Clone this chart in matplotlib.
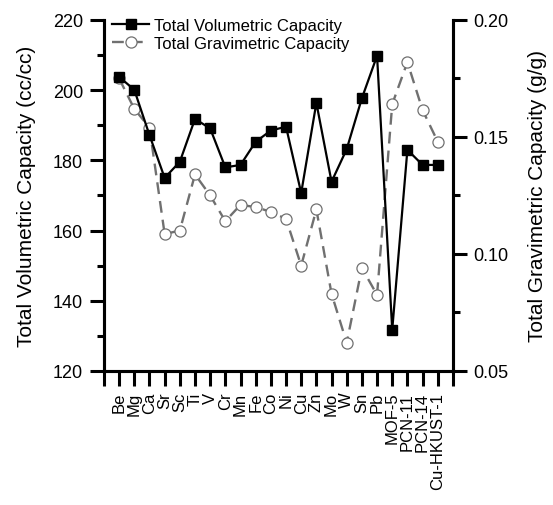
import matplotlib
matplotlib.use("Agg")
import matplotlib.pyplot as plt
import numpy as np

plt.rcParams["font.family"] = ["Liberation Sans", "DejaVu Sans"]

materials = [
    "Be", "Mg", "Ca", "Sr", "Sc", "Ti", "V", "Cr", "Mn", "Fe", "Co", "Ni", "Cu",
    "Zn", "Mo", "W", "Sn", "Pb", "MOF-5", "PCN-11", "PCN-14", "Cu-HKUST-1",
]
volumetric = [
    203.8, 200.1, 187.2, 175.0, 179.6, 191.8, 189.1, 178.0, 178.7, 185.3, 188.5,
    189.6, 170.7, 196.4, 173.9, 183.2, 197.7, 209.8, 131.7, 183.0, 178.7, 178.7,
]
gravimetric = [
    0.175, 0.162, 0.154, 0.1085, 0.110, 0.134, 0.125, 0.114, 0.121, 0.120, 0.118,
    0.115, 0.095, 0.119, 0.083, 0.062, 0.094, 0.0825, 0.164, 0.182, 0.1615, 0.148,
]

fig = plt.figure(figsize=(5.53, 5.06), dpi=100)
ax = fig.add_axes([0.188, 0.265, 0.631, 0.6935])
ax2 = ax.twinx()

x = np.arange(1, len(materials) + 1)
ax.set_xlim(0, len(materials) + 1)

(gl,) = ax2.plot(x, gravimetric, color="#707070", linestyle=(0, (5, 3)), linewidth=1.7,
                 marker="o", markersize=8, markerfacecolor="white",
                 markeredgecolor="#707070", markeredgewidth=0.9,
                 label="Total Gravimetric Capacity")
(vl,) = ax.plot(x, volumetric, color="black", linewidth=1.6, marker="s",
                markersize=7.5, markerfacecolor="black", markeredgecolor="black",
                label="Total Volumetric Capacity", zorder=3)
ax.set_zorder(ax2.get_zorder() + 1)
ax.patch.set_visible(False)

ax.set_ylim(120, 220)
ax.set_yticks(np.arange(120, 221, 20))
ax.set_yticks(np.arange(130, 220, 20), minor=True)
ax2.set_ylim(0.05, 0.20)
ax2.set_yticks([0.05, 0.10, 0.15, 0.20])
ax2.set_yticklabels(["0.05", "0.10", "0.15", "0.20"])
ax2.set_yticks([0.075, 0.125, 0.175], minor=True)

ends = [ax.get_xlim()[0], ax.get_xlim()[1]]
ax.set_xticks(list(x) + ends)
ax.set_xticklabels(materials + ["", ""], rotation=90)

for a in (ax, ax2):
    for s in a.spines.values():
        s.set_linewidth(2.2)
    a.tick_params(which="major", length=10, width=2.2, labelsize=13, pad=5)
    a.tick_params(which="minor", length=5, width=2.2)
ax2.spines["top"].set_visible(False)
ax.spines["top"].set_visible(False)
ax.tick_params(axis="x", length=11, width=2.2, labelsize=12, pad=4)

ax.set_ylabel("Total Volumetric Capacity (cc/cc)", fontsize=15, labelpad=12)
ax2.set_ylabel("Total Gravimetric Capacity (g/g)", fontsize=15, labelpad=14)

ax.legend(handles=[vl, gl], loc="upper left", frameon=False, fontsize=12,
          handlelength=2.2, handletextpad=0.3, borderaxespad=0.1,
          labelspacing=0.2, bbox_to_anchor=(0.0, 1.03))

fig.savefig("out.png", dpi=100)
